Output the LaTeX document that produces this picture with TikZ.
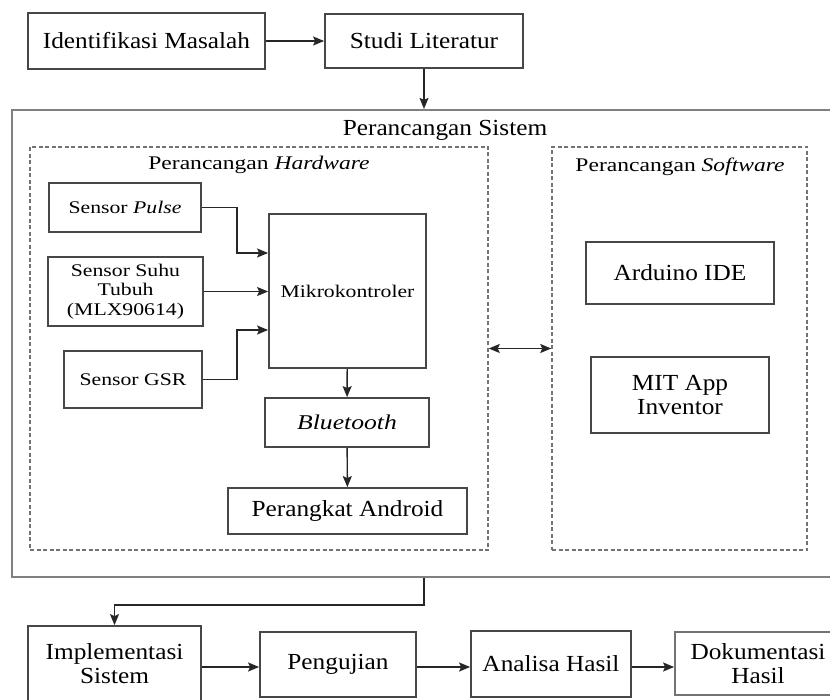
\documentclass[tikz,border=0pt]{standalone}
\usepackage{fontspec}
\setmainfont{Liberation Serif}
\newfontfamily\mainwide[FakeStretch=1.1]{Liberation Serif}
\newfontfamily\subwide[FakeStretch=1.22]{Liberation Serif}
\usetikzlibrary{arrows.meta}
\tikzset{
  box/.style={draw=black!72, line width=1.8pt, fill=white, inner sep=2pt, align=center,
    font=\mainwide\fontsize{23}{24}\selectfont},
  smallbox/.style={box, font=\subwide\fontsize{17.8}{19.6}\selectfont},
  frame/.style={draw=black!50, line width=2.2pt},
  group/.style={draw=black!55, line width=1.5pt, dash pattern=on 4pt off 2.5pt},
  grouptitle/.style={font=\subwide\fontsize{19.3}{20}\selectfont},
  tip/.tip={Stealth[length=11pt,width=9pt,inset=2pt]},
  arr/.style={draw=black!85, line width=1.4pt, -tip},
  arrtwo/.style={draw=black!85, line width=1.4pt, tip-tip},
}
\begin{document}
\begin{tikzpicture}[x=1pt, y=-1pt]
\clip (0,0) rectangle (830,700);
\fill[white] (0,0) rectangle (830,700);

% top row
\node[box, minimum width=237pt, minimum height=56pt] (idm) at (146.5,41) {Identifikasi Masalah};
\node[box, minimum width=198pt, minimum height=54pt] (stl) at (424,41) {Studi Literatur};

% system design frame and its two groups
\node[frame, minimum width=830pt, minimum height=467pt] (sys) at (427,343.5) {};
\node[font=\mainwide\fontsize{23}{24}\selectfont] (systitle) at (445,130) {Perancangan Sistem};
\node[group, minimum width=458pt, minimum height=403pt] (hw) at (259,348.5) {};
\node[grouptitle] (hwtitle) at (259,165) {Perancangan \textit{Hardware}};
\node[group, minimum width=255pt, minimum height=403pt] (sw) at (679.5,348.5) {};
\node[grouptitle] (swtitle) at (680,167) {Perancangan \textit{Software}};

% hardware blocks
\node[smallbox, minimum width=152pt, minimum height=49pt] (pulse) at (125,207.5) {Sensor \textit{Pulse}};
\node[smallbox, minimum width=155pt, minimum height=69pt] (suhu) at (125.5,291.5) {Sensor Suhu\\Tubuh\\(MLX90614)};
\node[smallbox, minimum width=138pt, minimum height=57pt] (gsr) at (133,379.5) {Sensor GSR};
\node[smallbox, minimum width=157pt, minimum height=154pt] (mcu) at (347.5,291) {Mikrokontroler};
\node[box, font=\subwide\fontsize{21}{22}\selectfont\itshape, minimum width=164pt, minimum height=49pt] (bt) at (347,422.5) {Bluetooth};
\node[box, minimum width=239pt, minimum height=46pt] (andr) at (347.5,511) {Perangkat Android};

% software blocks
\node[box, minimum width=188pt, minimum height=62pt] (ard) at (680,273) {Arduino IDE};
\node[box, minimum width=178pt, minimum height=76pt] (mit) at (680,395) {MIT App\\Inventor};

% bottom row
\node[box, minimum width=173pt, minimum height=76pt] (impl) at (114.5,664) {Implementasi\\Sistem};
\node[box, minimum width=156pt, minimum height=65pt] (peng) at (338,664.5) {Pengujian};
\node[box, minimum width=160pt, minimum height=66pt] (anal) at (551,664) {Analisa Hasil};
\node[box, draw=black!55, minimum width=166pt, minimum height=63pt] (dok) at (758,663.5) {Dokumentasi\\Hasil};

% connectors
\draw[arr] (idm) -- (stl);
\draw[arr] (stl) -- (stl |- sys.north);
\draw[arr] (pulse.east) -- ++(35,0) |- ([yshift=38pt]mcu.west);
\draw[arr] (suhu.east) -- (suhu.east -| mcu.west);
\draw[arr] (gsr.east) -- ++(34,0) |- ([yshift=-39pt]mcu.west);
\draw[arr] (mcu) -- (bt);
\draw[arr] (bt) -- (andr);
\draw[arrtwo] (hw.east) -- (sw.west);
\draw[arr] (sys.south -| stl) -- ++(0,27) -| (impl.north);
\draw[arr] (impl.east |- 0,667) -- (peng.west |- 0,667);
\draw[arr] (peng.east |- 0,667) -- (anal.west |- 0,667);
\draw[arr] (anal.east |- 0,667) -- (dok.west |- 0,667);
\end{tikzpicture}
\end{document}
